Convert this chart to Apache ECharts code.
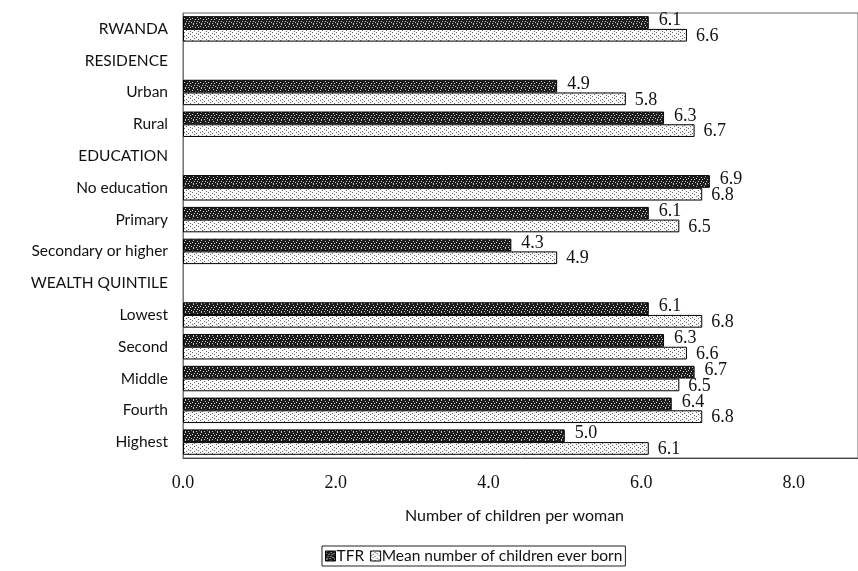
<!DOCTYPE html>
<html><head><meta charset="utf-8">
<script src="https://cdn.jsdelivr.net/npm/echarts@6/dist/echarts.min.js"></script>
<style>html,body{margin:0;padding:0;background:#fff}#c{width:858px;height:571px}</style>
</head><body><div id="c"></div>
<script>
const categories = ["RWANDA","RESIDENCE","Urban","Rural","EDUCATION","No education","Primary","Secondary or higher","WEALTH QUINTILE","Lowest","Second","Middle","Fourth","Highest"];
const tfr = [6.1, null, 4.9, 6.3, null, 6.9, 6.1, 4.3, null, 6.1, 6.3, 6.7, 6.4, 5.0];
const ceb = [6.6, null, 5.8, 6.7, null, 6.8, 6.5, 4.9, null, 6.8, 6.6, 6.5, 6.8, 6.1];
const xTicks = [0, 2, 4, 6, 8];

function makePattern(bg, fg, pts, size){
  const c = document.createElement('canvas'); c.width = size; c.height = size;
  const g = c.getContext('2d'); g.fillStyle = bg; g.fillRect(0,0,size,size);
  g.fillStyle = fg; pts.forEach(p => g.fillRect(p[0], p[1], 1, 1));
  return c;
}
const darkPat = makePattern('#1e1e1e', '#c8c8c8', [[1,0],[5,1],[0,2],[3,3],[6,3],[2,5],[5,5],[7,6],[1,7],[4,7]], 8);
const lightPat = makePattern('#f8f8f8', '#666', [[0,0],[4,1],[2,3],[6,2],[0,4],[4,5],[2,6],[6,7]], 8);

const labelFont = {fontFamily:'Liberation Serif', fontSize:18, color:'#111'};
const chart = echarts.init(document.getElementById('c'), null, {renderer:'canvas'});
chart.setOption({
  animation:false,
  grid:{left:183, top:13, bottom:113, right:-2, show:true, borderColor:'#666', borderWidth:1},
  legend:{
    bottom:5, left:322, itemWidth:10, itemHeight:10, itemGap:6, icon:'rect',
    borderColor:'#222', borderWidth:1, padding:[2,3,2,3], borderRadius:0,
    textStyle:{fontFamily:'Lato', fontSize:15.5, color:'#111', padding:[0,0,0,-4]},
    data:[{name:'TFR', itemStyle:{color:{image:darkPat, repeat:'repeat'}, borderColor:'#000', borderWidth:1}},
          {name:'Mean number of children ever born', itemStyle:{color:{image:lightPat, repeat:'repeat'}, borderColor:'#000', borderWidth:1}}]
  },
  xAxis:{
    type:'value', min:0, max:8.84, interval:2,
    name:'Number of children per woman', nameLocation:'middle', nameGap:50,
    nameTextStyle:{fontFamily:'Lato', fontSize:16, color:'#111', padding:[0,12,0,0]},
    axisLine:{show:true, lineStyle:{color:'#444'}}, axisTick:{show:false}, splitLine:{show:false},
    axisLabel:{fontFamily:'Liberation Serif', fontSize:18, color:'#111', margin:16, showMaxLabel:false,
      formatter: v => xTicks.includes(v) ? v.toFixed(1) : ''}
  },
  yAxis:{
    type:'category', data:categories, inverse:true,
    axisLine:{show:true, lineStyle:{color:'#777'}}, axisTick:{show:false},
    axisLabel:{fontFamily:'Lato', fontSize:15.5, color:'#111', margin:15}
  },
  series:[
    {name:'TFR', type:'bar', data:tfr, barGap:'0%', barCategoryGap:'20%',
     itemStyle:{color:{image:darkPat, repeat:'repeat'}, borderColor:'#000', borderWidth:1},
     label:{show:true, position:'right', distance:10, offset:[0,-2], formatter:p=>p.value.toFixed(1), ...labelFont}},
    {name:'Mean number of children ever born', type:'bar', data:ceb,
     itemStyle:{color:{image:lightPat, repeat:'repeat'}, borderColor:'#000', borderWidth:1},
     label:{show:true, position:'right', distance:9, offset:[0,1], formatter:p=>p.value.toFixed(1), ...labelFont}}
  ]
});
</script></body></html>
